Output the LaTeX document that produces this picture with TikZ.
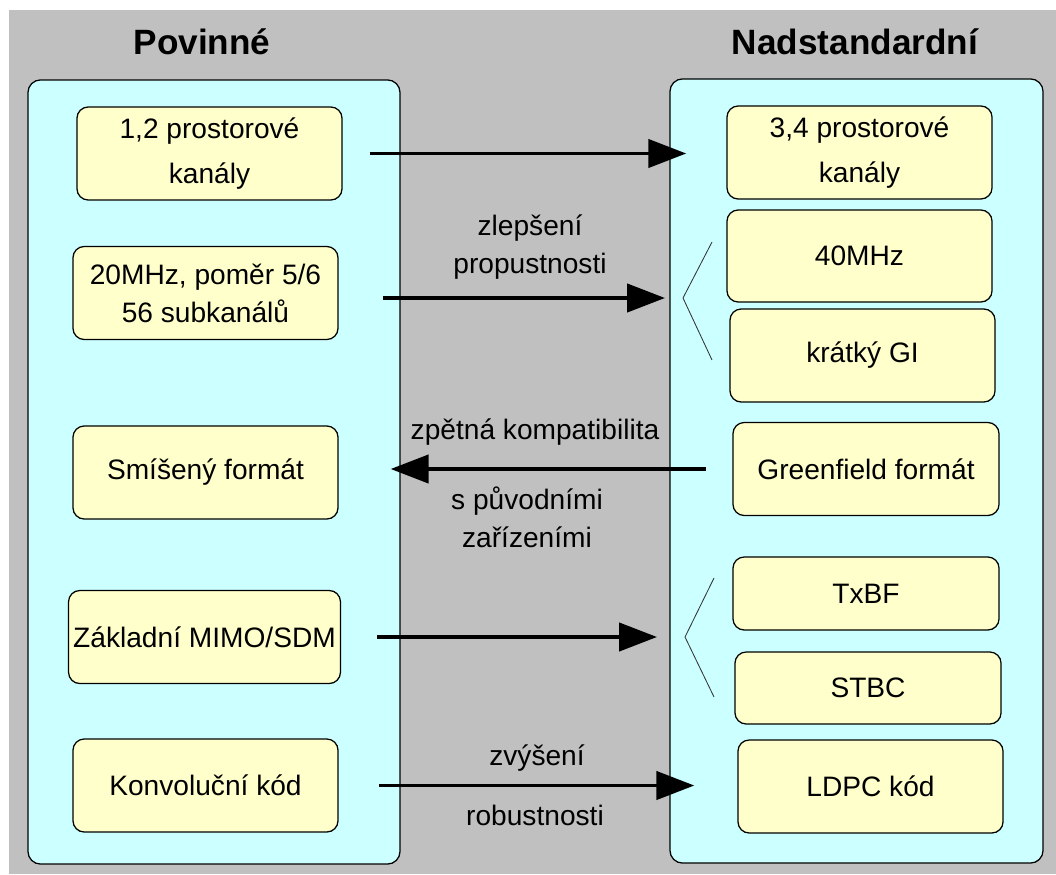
\documentclass[tikz,border=0pt]{standalone}
\usepackage{fontspec}
\setmainfont{Liberation Sans}
\usetikzlibrary{arrows.meta}
\definecolor{pozadi}{RGB}{192,192,192}
\definecolor{modra}{RGB}{204,255,255}
\definecolor{zluta}{RGB}{255,255,204}

\begin{document}
\begin{tikzpicture}[x=0.025cm, y=-0.025cm, >={Triangle[length=27pt,width=20pt]},
    skupina/.style={draw, fill=modra, rounded corners=9pt, line width=0.9pt, minimum width=9.3cm, minimum height=19.6cm},
    blok/.style={draw, fill=zluta, rounded corners=8pt, line width=0.9pt, minimum width=6.625cm, minimum height=2.325cm, align=center, font=\fontsize{20}{27}\selectfont},
    dvoj/.style={font=\fontsize{20}{32}\selectfont},
    popis/.style={align=center, font=\fontsize{20}{27}\selectfont},
    nadpis/.style={anchor=base, font=\bfseries\fontsize{25}{30}\selectfont},
    sipka/.style={->, line width=2.8pt},
    zavorka/.style={line width=0.6pt, black!80}]
                % Pozadí
                \useasboundingbox (0,0) rectangle (1056,874);
                \fill[white] (0,0) rectangle (1056,874);
                \fill[pozadi] (9,10) rectangle (1056,874);

                % Nadpisy
                \node[nadpis] (povinne) at (202,55) {Povinné};
                \node[nadpis] (nadstd) at (855,55) {Nadstandardní};

                % Skupiny
                \node[skupina] (levy) at (214,472) {};
                \node[skupina, minimum width=9.325cm] (pravy) at (856.5,471) {};

                % Povinné bloky
                \node[blok, dvoj] (k12) at (209.5,153.5) {1,2 prostorové\\kanály};
                \node[blok] (mhz20) at (205.5,293) {20MHz, poměr 5/6\\56 subkanálů};
                \node[blok] (smis) at (205.5,472.5) {Smíšený formát};
                \node[blok] (zakl) at (204.5,637) {Základní MIMO/SDM};
                \node[blok] (konv) at (205.5,785.5) {Konvoluční kód};

                % Nadstandardní bloky
                \node[blok, dvoj] (k34) at (859.5,152.5) {3,4 prostorové\\kanály};
                \node[blok, minimum height=2.3cm] (mhz40) at (859.5,256) {40MHz};
                \node[blok] (gi) at (862.5,355.5) {krátký GI};
                \node[blok, minimum width=6.65cm] (green) at (866,469) {Greenfield formát};
                \node[blok, minimum width=6.65cm, minimum height=1.825cm] (txbf) at (866,593.5) {TxBF};
                \node[blok, minimum width=6.65cm, minimum height=1.8cm] (stbc) at (868,688) {STBC};
                \node[blok] (ldpc) at (870.5,786.5) {LDPC kód};

                % Závorky
                \coordinate (z1) at (683,298);
                \coordinate (z2) at (685,637);
                \draw[zavorka] (712,242) -- (z1) -- (712,360);
                \draw[zavorka] (714,578) -- (z2) -- (714,697);

                % Šipky
                \draw[sipka, shorten <=19.2pt, shorten >=28.5pt] (k12.east) -- (k12.east -| k34.west);
                \draw[sipka, shorten <=31.3pt, shorten >=12.8pt] (mhz20.east |- z1) -- (z1);
                \draw[sipka, shorten <=18.5pt, shorten >=37pt] (green.west) -- (green.west -| smis.east);
                \draw[sipka, shorten <=25.6pt, shorten >=19.9pt] (zakl.east |- z2) -- (z2);
                \draw[sipka, shorten <=28.5pt, shorten >=30.6pt] (konv.east) -- (konv.east -| ldpc.west);

                % Popisky
                \node[popis] (zlep) at (530,247) {zlepšení\\propustnosti};
                \node[popis] (zpet) at (535,432) {zpětná kompatibilita};
                \node[popis] (puvod) at (527,517) {s původními\\zařízeními};
                \node[popis] (zvys) at (537,758) {zvýšení};
                \node[popis] (robust) at (535,815) {robustnosti};
\end{tikzpicture}
\end{document}
